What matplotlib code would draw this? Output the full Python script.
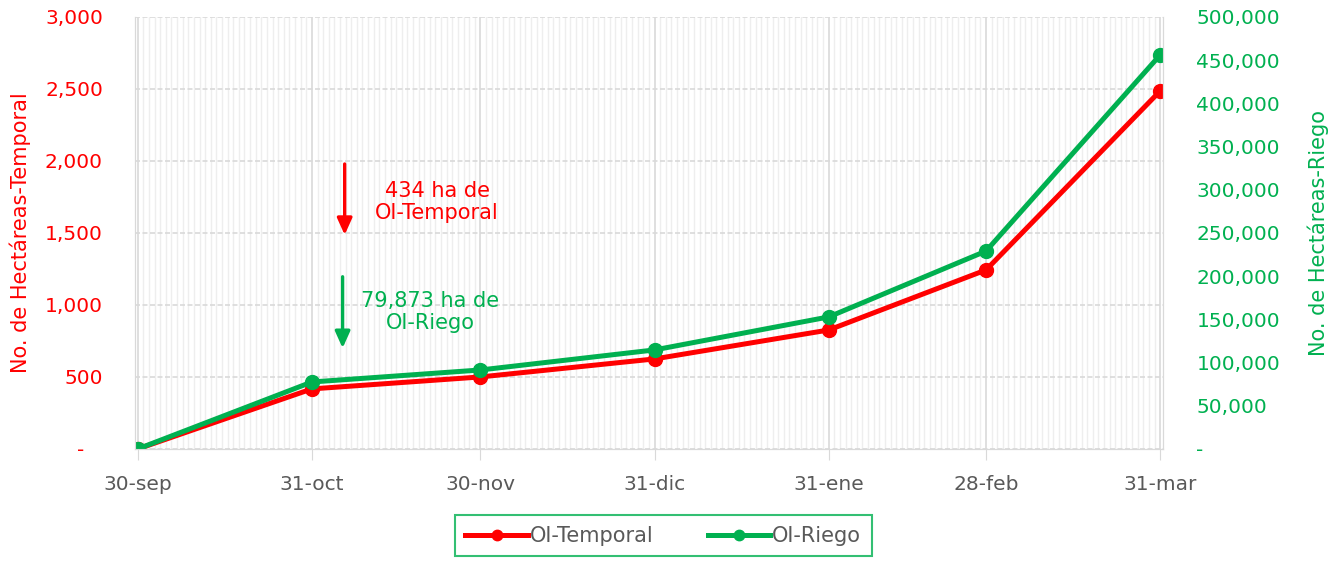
import matplotlib
matplotlib.use("Agg")
import matplotlib.pyplot as plt
import matplotlib.dates as mdates
from matplotlib.ticker import FuncFormatter, MultipleLocator
import pandas as pd

# datos
fechas = pd.to_datetime(["2020-09-30", "2020-10-31", "2020-11-30", "2020-12-31",
                         "2021-01-31", "2021-02-28", "2021-03-31"])
etiquetas = ["30-sep", "31-oct", "30-nov", "31-dic", "31-ene", "28-feb", "31-mar"]
temporal = [0, 417, 500, 625, 826, 1243, 2486]
riego = [0, 77500, 91400, 114600, 152800, 229000, 456000]

ROJO = "#FF0000"
VERDE = "#00B050"
GRIS = "#595959"

plt.rcParams["font.family"] = ["DejaVu Sans"]

fig = plt.figure(figsize=(13.36, 5.64), dpi=100)
ax = fig.add_axes([0.101, 0.204, 0.7695, 0.766])
ax2 = ax.twinx()

l1, = ax.plot(fechas, temporal, color=ROJO, lw=3.6, marker="o", ms=10, label="OI-Temporal")
l2, = ax2.plot(fechas, riego, color=VERDE, lw=3.6, marker="o", ms=10, label="OI-Riego")

# ejes
ax.set_xlim(fechas[0] - pd.Timedelta(days=0.5), fechas[-1] + pd.Timedelta(days=0.5))
ax.set_ylim(0, 3000)
ax2.set_ylim(0, 500000)
ax.yaxis.set_major_locator(MultipleLocator(500))
ax2.yaxis.set_major_locator(MultipleLocator(50000))

def fmt(v, pos):
    return "-   " if v == 0 else f"{v:,.0f}"

ax.yaxis.set_major_formatter(FuncFormatter(fmt))
ax2.yaxis.set_major_formatter(FuncFormatter(lambda v, p: "-" if v == 0 else f"{v:,.0f}"))

ax.set_xticks(fechas)
ax.set_xticklabels(etiquetas)
ax.xaxis.set_minor_locator(mdates.DayLocator())

ax.tick_params(axis="x", which="major", colors="#D9D9D9", labelcolor=GRIS,
               labelsize=14.5, length=8, pad=11)
ax.tick_params(axis="x", which="minor", length=0)
ax.tick_params(axis="y", colors=ROJO, labelsize=14.5, length=0, pad=23)
ax2.tick_params(axis="y", colors=VERDE, labelsize=14.5, length=0, pad=24)

ax.grid(True, axis="x", which="minor", color="#EEEEEE", lw=1)
ax.grid(True, axis="x", which="major", color="#D9D9D9", lw=1.2)
ax.grid(True, axis="y", which="major", color="#D9D9D9", lw=1.2, ls=(0, (3, 1.5)))
ax.set_axisbelow(True)

for a in (ax, ax2):
    for s in a.spines.values():
        s.set_color("#D9D9D9")
    a.spines["top"].set_visible(False)

ax.set_ylabel("No. de Hectáreas-Temporal", color=ROJO, fontsize=15, labelpad=10)
ax2.set_ylabel("No. de Hectáreas-Riego", color=VERDE, fontsize=15, labelpad=20)

# anotaciones
flecha = "-|>,head_width=0.45,head_length=1.0"
ax.annotate("", xy=(0.204, 0.489), xytext=(0.204, 0.666), xycoords="axes fraction",
            arrowprops=dict(arrowstyle=flecha, color=ROJO, lw=2.4))
ax.text(0.294, 0.572, "434 ha de\nOI-Temporal", transform=ax.transAxes, color=ROJO,
        fontsize=15, ha="center", va="center", linespacing=1.15)
ax.annotate("", xy=(0.202, 0.227), xytext=(0.202, 0.405), xycoords="axes fraction",
            arrowprops=dict(arrowstyle=flecha, color=VERDE, lw=2.4))
ax.text(0.287, 0.317, "79,873 ha de\nOI-Riego", transform=ax.transAxes, color=VERDE,
        fontsize=15, ha="center", va="center", linespacing=1.15)

# leyenda
leg = fig.legend(handles=[l1, l2], loc="upper center", bbox_to_anchor=(0.4965, 0.086),
                 ncol=2, frameon=True, fancybox=False, fontsize=15, handlelength=3.0,
                 columnspacing=2.6, borderpad=0.5, handletextpad=0.1,
                 borderaxespad=0, markerscale=0.75)
leg.get_frame().set_edgecolor(VERDE)
leg.get_frame().set_linewidth(1.5)
for t in leg.get_texts():
    t.set_color(GRIS)

fig.savefig("out.png", dpi=100)
